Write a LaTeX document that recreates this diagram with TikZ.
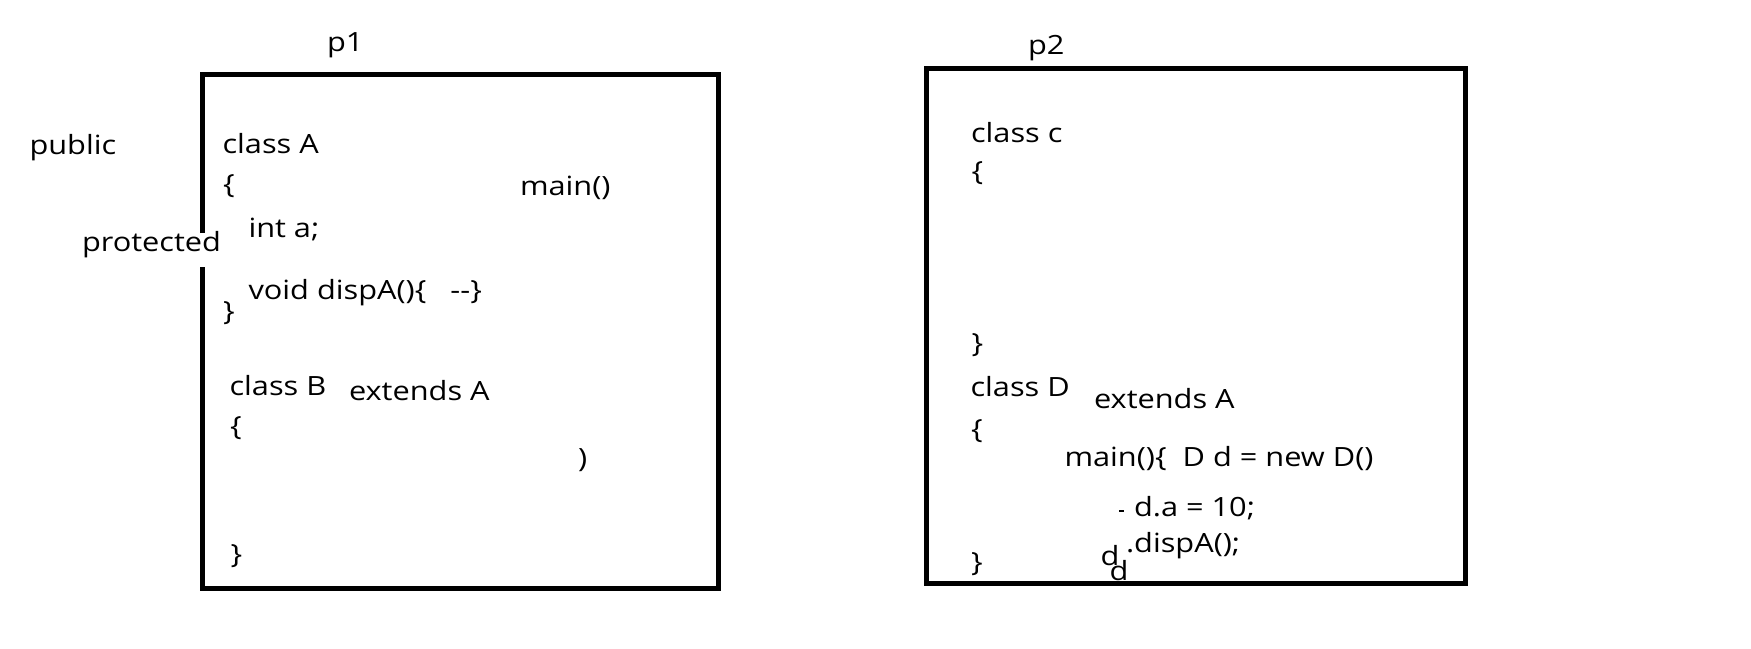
\documentclass[tikz,border=0pt]{standalone}
\usepackage{fontspec}
\setmainfont{Open Sans}[FakeStretch=1.16]
\begin{document}
\begin{tikzpicture}[x=1pt,y=-1pt,
  txt/.style={anchor=base west, inner sep=0pt, outer sep=0pt, font=\fontsize{26.5}{32}\selectfont},
  frame/.style={line width=5pt, line join=miter, draw=black}]
\useasboundingbox (0,0) rectangle (1751,648);
\fill[white] (0,0) rectangle (1751,648);

% package p1 (left edge interrupted by the "protected" label)
\coordinate (g1) at (202.5,233);
\coordinate (g2) at (202.5,267);
\draw[frame] (g1) -- (202.5,74) -- (718.5,74) -- (718.5,588) -- (202.5,588) -- (g2);

% package p2
\draw[frame] (926,68.5) rectangle (1465,583);

% labels outside
\node[txt] (p1) at (327,51.7) {p1};
\node[txt] (p2) at (1028,54.3) {p2};
\node[txt] (public) at (29.5,154) {public};
\node[txt] (protected) at (82,251.7) {protected};

% package p1 contents
\node[txt] (classA) at (222.5,153.3) {class A};
\node[txt] (obA) at (223,193) {\{};
\node[txt] (mainA) at (520,195) {main()};
\node[txt] (inta) at (248.5,237.7) {int a;};
\node[txt] (dispA) at (248.5,299) {void dispA()\{\ \ \ -{}-\}};
\node[txt] (cbA) at (223,320) {\}};
\node[txt] (classB) at (229.5,395) {class B};
\node[txt] (extB) at (349,400) {extends A};
\node[txt] (obB) at (230,435) {\{};
\node[txt] (parB) at (578,467) {)};
\node[txt] (cbB) at (230.5,563) {\}};

% package p2 contents
\node[txt] (classc) at (971,142.7) {class c};
\node[txt] (obc) at (971.5,180) {\{};
\node[txt] (cbc) at (971.5,352) {\}};
\node[txt] (classD) at (970.5,396.7) {class D};
\node[txt] (extD) at (1094,408.3) {extends A};
\node[txt] (obD) at (971,438) {\{};
\node[txt] (mainD) at (1064.5,466.7) {main()\{\ \ D d = new D()};
\coordinate (dashL) at (1119,511);
\coordinate (dashR) at (1124,511);
\draw[line width=1.5pt] (dashL) -- (dashR);
\node[txt] (da) at (1134,516.7) {d.a = 10;};
\node[txt] (cbD) at (971,571) {\}};
\node[txt] (d1) at (1100.5,565.7) {d};
\node[txt] (d2) at (1109.5,580) {d};
\node[txt] (disp) at (1126,552.3) {.dispA();};
\end{tikzpicture}
\end{document}
